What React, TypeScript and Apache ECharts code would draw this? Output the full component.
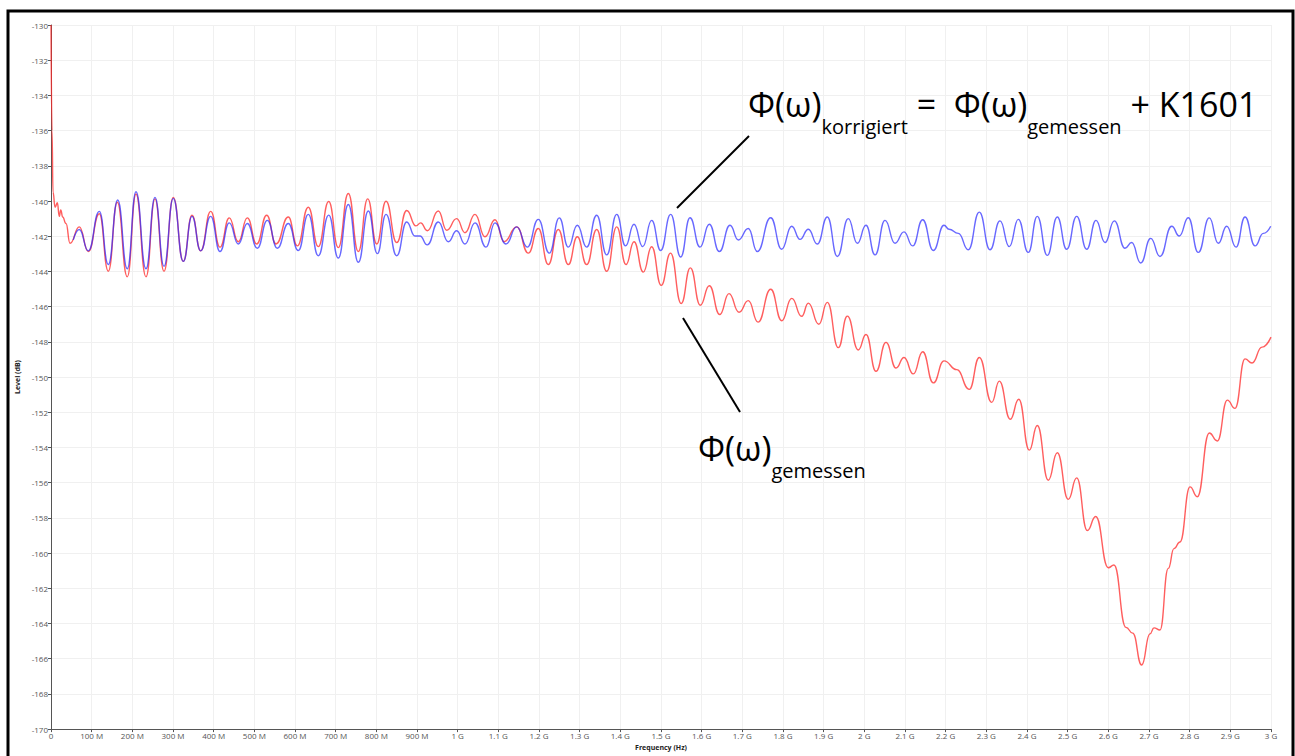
import React, { useEffect, useRef } from "react";
import * as echarts from "echarts";

// Frequency (MHz) / level (dB) of the extrema of the measured curve (red)
const freqMeasured = [
  0, 2.5, 5, 10, 15.5, 20.4, 23.9, 28.8, 36.9, 46.7, 69.6, 91.7, 118.8, 140.9, 163, 187.6, 209, 233.6, 255.7, 277.9,
  300.7, 325.3, 346.7, 368.1, 392.7, 415.6, 438.4, 460.6, 482.7, 505.8, 530.4, 553.3, 583.5, 605.7, 632.7, 657.3,
  682.9, 706.5, 731.1, 755.7, 778.8, 800.9, 823.8, 850.1, 874.7, 897.5, 909.1, 925.3, 952.4, 973, 997.6, 1018,
  1042.6, 1067.2, 1091.8, 1114, 1145.2, 1173.7, 1198.3, 1222.9, 1247.5, 1272.1, 1294.2, 1317.3, 1341.9, 1366.5,
  1391.1, 1414, 1433.6, 1456.5, 1477.1, 1500.5, 1523.4, 1549.7, 1572.1, 1596.7, 1618.8, 1644.4, 1667.2, 1691.8,
  1714.7, 1738.5, 1769.8, 1796.8, 1821.4, 1846, 1862.3, 1888.1, 1909, 1936, 1958.2, 1985.2, 2004.1, 2028.7, 2053.3,
  2077.9, 2097.6, 2120.4, 2143.5, 2169.6, 2195.9, 2227.1, 2258.1, 2282.7, 2313.2, 2331.9, 2358.9, 2379.8, 2405.6,
  2425.3, 2452.4, 2474.5, 2501.5, 2522.2, 2548.3, 2568.9, 2599.9, 2613.9, 2643.4, 2659.9, 2682, 2702.4, 2712.3,
  2727, 2747.4, 2761.4, 2776.2, 2800.8, 2818.7, 2848.3, 2868, 2892.6, 2911.5, 2936.1, 2953.3, 2977.9, 3000,
];
const levelMeasured = [
  -130, -136, -139.5, -140.35, -140.1, -140.87, -140.5, -140.91, -141.28, -142.4, -141.47, -142.87, -140.72, -143.99,
  -140.07, -144.3, -139.6, -144.3, -139.88, -143.99, -139.79, -143.43, -140.81, -142.83, -140.59, -142.62, -140.96,
  -142.31, -140.96, -142.44, -140.81, -142.44, -140.91, -142.55, -140.35, -142.59, -140.03, -142.65, -139.57,
  -142.87, -139.88, -142.44, -140.01, -142.36, -140.54, -141.41, -141.24, -141.69, -140.57, -141.66, -141, -141.8,
  -140.76, -142.03, -141.06, -142.31, -141.47, -142.96, -141.56, -143.61, -141.62, -143.61, -142.03, -143.61,
  -141.62, -143.99, -141.47, -143.61, -142.31, -144.04, -142.6, -144.79, -142.96, -145.82, -143.8, -145.92, -144.81,
  -146.45, -145.26, -146.32, -145.66, -146.88, -145.01, -146.8, -145.53, -146.55, -145.8, -147, -145.76, -148.33,
  -146.54, -148.46, -147.58, -149.67, -148.03, -149.49, -148.89, -149.82, -148.56, -150.33, -149.08, -149.58, -150.7,
  -148.89, -151.44, -150.23, -152.4, -151.26, -154.15, -152.75, -155.86, -154.3, -156.95, -155.73, -158.72, -157.92,
  -160.83, -160.68, -164.22, -164.55, -166.36, -164.59, -164.25, -164.37, -160.87, -159.75, -159.37, -156.24, -156.8,
  -153.18, -153.63, -151.31, -151.78, -148.97, -149.2, -148.3, -147.73,
];

// Frequency (MHz) / level (dB) of the extrema of the corrected curve (blue)
const freqCorrected = [
  54.8, 69.6, 91.7, 118.8, 140.9, 164, 187.6, 209, 233.6, 255.7, 277.9, 300.7, 325.3, 346.7, 368.1, 392.7, 415.6,
  438.4, 460.6, 482.7, 507.3, 531.9, 556.5, 583.5, 608.1, 632.7, 657.3, 682.9, 706.5, 731.1, 755.7, 780.3, 802.4,
  823.8, 850.1, 874.7, 895.1, 907.4, 925.3, 952.4, 977, 997.6, 1018, 1042.6, 1069.7, 1091.8, 1118.8, 1145.2, 1171.3,
  1198.3, 1225.3, 1249.9, 1272.1, 1294.2, 1317.3, 1341.9, 1366.5, 1391.1, 1412.7, 1433.6, 1455, 1477.1, 1499.2,
  1523.8, 1548.4, 1571.3, 1595.9, 1618.8, 1643.4, 1669.7, 1690.1, 1714.7, 1736.8, 1769.8, 1796.8, 1821.4, 1841.8,
  1862.3, 1884.4, 1909, 1933.6, 1960.6, 1982.7, 2004.1, 2026.3, 2050.9, 2075.4, 2097.6, 2118.9, 2143.5, 2169.6,
  2195.9, 2208.2, 2231.1, 2255.7, 2282.7, 2309, 2333.6, 2356.5, 2378.6, 2403.2, 2425.3, 2449.9, 2474.5, 2497.6,
  2522.2, 2546.8, 2569.7, 2591.8, 2614.7, 2641, 2657.5, 2679.6, 2704.2, 2727, 2755.8, 2774.5, 2796.6, 2821.2,
  2848.3, 2870.4, 2891.1, 2914, 2936.1, 2960.7, 2981.1, 2999.3,
];
const levelCorrected = [
  -142.21, -141.62, -142.83, -140.59, -143.61, -139.94, -143.85, -139.47, -143.85, -139.79, -143.71, -139.85, -143.43,
  -140.87, -142.83, -140.87, -142.87, -141.24, -142.44, -141.28, -142.68, -141.1, -142.68, -141.28, -142.81, -140.76,
  -143.11, -140.8, -143.24, -140.2, -143.48, -140.57, -142.99, -140.76, -143.11, -141.19, -141.99, -141.99, -142.49,
  -141.19, -142.31, -141.69, -142.44, -141.24, -142.62, -141.24, -142.44, -141.47, -142.62, -141.04, -142.96,
  -140.96, -142.62, -141.38, -142.62, -140.81, -143.06, -140.76, -142.55, -141.32, -142.59, -141.1, -142.81, -140.76,
  -143.18, -140.95, -142.62, -141.32, -142.87, -141.38, -142.21, -141.56, -142.87, -140.95, -142.74, -141.43,
  -142.18, -141.6, -142.44, -140.91, -143.15, -141, -142.4, -141.38, -143.06, -141.1, -142.4, -141.75, -142.55,
  -141.06, -142.81, -141.38, -141.6, -141.84, -142.77, -140.63, -142.77, -141.13, -142.59, -141.04, -142.92, -140.87,
  -143.09, -140.91, -142.74, -140.87, -142.74, -141.1, -142.36, -141.13, -142.68, -142.36, -143.52, -142.12, -143.15,
  -141.43, -141.99, -140.95, -142.92, -140.96, -142.4, -141.43, -142.62, -140.91, -142.55, -141.84, -141.43,
];

const xMin = 0;
const xMax = 3000;
const xStep = 100;
const yMin = -170;
const yMax = -130;
const yStep = 2;
const xAxisTitle = "Frequency (Hz)";
const yAxisTitle = "Level (dB)";

const FONT = "'Open Sans', 'DejaVu Sans', sans-serif";

function freqLabel(v: number): string {
  if (v === 0) return "0";
  if (v < 1000) return `${v} M`;
  return `${Math.round(v / 100) / 10} G`;
}

function measure(text: string, size: number): number {
  const c = document.createElement("canvas").getContext("2d");
  if (!c) return text.length * size * 0.55;
  c.font = `${size}px 'Open Sans'`;
  return c.measureText(text).width;
}

type Frag = { t: string; sub?: boolean };

function buildFormula(frags: Frag[], x0: number, yMain: number, big: number, small: number, subDy: number) {
  const els: any[] = [];
  let x = x0;
  for (const f of frags) {
    const size = f.sub ? small : big;
    els.push({
      type: "text",
      x,
      y: f.sub ? yMain + subDy : yMain,
      style: {
        text: f.t,
        fontSize: size,
        fontFamily: FONT,
        fill: "#000",
        textAlign: "left",
        textVerticalAlign: "middle",
      },
      z: 100,
    });
    x += measure(f.t, size);
  }
  return els;
}

export default function App() {
  const ref = useRef<HTMLDivElement>(null);

  useEffect(() => {
    if (!ref.current) return;
    const chart = echarts.init(ref.current, undefined, { renderer: "svg" });

    const measuredData = freqMeasured.map((f, i) => [f, levelMeasured[i]]);
    const correctedData = freqCorrected.map((f, i) => [f, levelCorrected[i]]);

    const formula1 = buildFormula(
      [
        { t: "Φ(ω)" },
        { t: "korrigiert", sub: true },
        { t: " =  Φ(ω)" },
        { t: "gemessen", sub: true },
        { t: " + K1601" },
      ],
      748,
      104,
      34,
      20,
      22
    );
    const formula2 = buildFormula(
      [{ t: "Φ(ω)" }, { t: "gemessen", sub: true }],
      698,
      448,
      34,
      20,
      22
    );

    chart.setOption({
      animation: false,
      backgroundColor: "#ffffff",
      grid: { left: 51, right: 24, top: 25, bottom: 16, containLabel: false },
      xAxis: {
        type: "value",
        min: xMin,
        max: xMax,
        interval: xStep,
        name: xAxisTitle,
        nameLocation: "middle",
        nameGap: 10,
        nameTextStyle: { fontSize: 7, fontWeight: "bold", color: "#222", fontFamily: FONT },
        axisLine: { show: true, lineStyle: { color: "#555", width: 1 } },
        axisTick: { show: true, length: 3, lineStyle: { color: "#555" } },
        axisLabel: { formatter: freqLabel, fontSize: 8, color: "#555", margin: 2, fontFamily: FONT },
        splitLine: { show: true, lineStyle: { color: "#f0f0f0", width: 1 } },
      },
      yAxis: {
        type: "value",
        min: yMin,
        max: yMax,
        interval: yStep,
        name: yAxisTitle,
        nameLocation: "middle",
        nameGap: 24,
        nameTextStyle: { fontSize: 7, fontWeight: "bold", color: "#222", fontFamily: FONT },
        axisLine: { show: true, onZero: false, lineStyle: { color: "#555", width: 1 } },
        axisTick: { show: true, length: 3, lineStyle: { color: "#555" } },
        axisLabel: { fontSize: 8, color: "#555", margin: 3, fontFamily: FONT },
        splitLine: { show: true, lineStyle: { color: "#f0f0f0", width: 1 } },
      },
      series: [
        {
          name: "gemessen",
          type: "line",
          data: measuredData,
          showSymbol: false,
          smooth: 0.5,
          smoothMonotone: "x",
          lineStyle: { color: "rgba(255,40,40,0.75)", width: 1.4 },
          z: 2,
        },
        {
          name: "korrigiert",
          type: "line",
          data: correctedData,
          showSymbol: false,
          smooth: 0.5,
          smoothMonotone: "x",
          lineStyle: { color: "rgba(40,40,255,0.7)", width: 1.4 },
          z: 3,
        },
      ],
      graphic: [
        {
          type: "rect",
          shape: { x: 8, y: 11, width: 1285, height: 770 },
          style: { fill: "none", stroke: "#000", lineWidth: 3 },
          z: 200,
          silent: true,
        },
        {
          type: "line",
          shape: { x1: 677, y1: 208, x2: 749, y2: 136 },
          style: { stroke: "#000", lineWidth: 2 },
          z: 100,
        },
        {
          type: "line",
          shape: { x1: 683, y1: 318, x2: 740, y2: 412 },
          style: { stroke: "#000", lineWidth: 2 },
          z: 100,
        },
        ...formula1,
        ...formula2,
      ],
    });

    return () => chart.dispose();
  }, []);

  return (
    <div
      ref={ref}
      style={{ position: "absolute", left: 0, top: 0, width: 1295, height: 756, background: "#fff" }}
    />
  );
}
